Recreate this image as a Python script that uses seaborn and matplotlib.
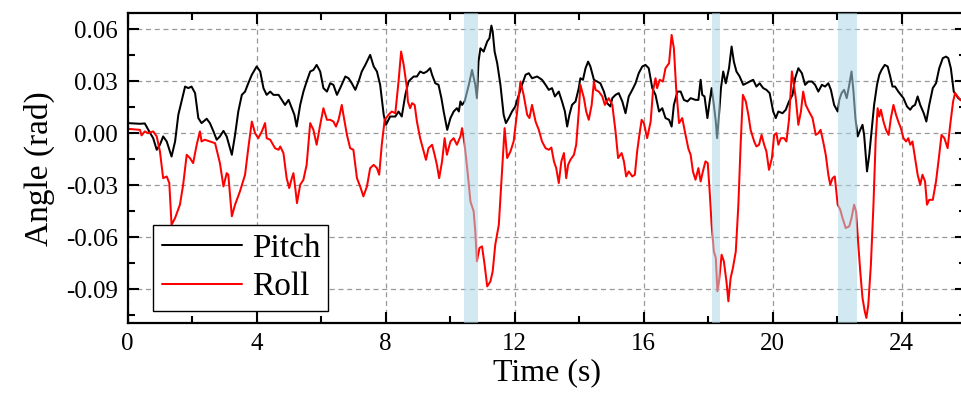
import numpy as np
import pandas as pd
import matplotlib
matplotlib.use("Agg")
import matplotlib.pyplot as plt
import seaborn as sns
from matplotlib.ticker import MultipleLocator, FormatStrFormatter
from matplotlib.lines import Line2D

# ---------------- data ----------------
pitch_t = [0.00, 0.38, 0.53, 0.64, 0.79, 0.90, 1.00, 1.10, 1.21, 1.36, 1.47, 1.57, 1.67, 1.78, 1.88, 1.98,
           2.09, 2.19, 2.29, 2.45, 2.55, 2.66, 2.76, 2.86, 2.97, 3.07, 3.23, 3.33, 3.43, 3.54, 3.64, 3.74,
           3.85, 4.00, 4.11, 4.21, 4.31, 4.42, 4.52, 4.68, 4.78, 4.88, 4.99, 5.09, 5.17, 5.24, 5.35, 5.45,
           5.55, 5.66, 5.76, 5.86, 5.97, 6.07, 6.18, 6.28, 6.38, 6.49, 6.59, 6.75, 6.85, 6.95, 7.06, 7.16,
           7.26, 7.37, 7.52, 7.63, 7.73, 7.83, 7.94, 8.01, 8.14, 8.30, 8.40, 8.50, 8.61, 8.71, 8.76, 8.87,
           8.97, 9.07, 9.18, 9.28, 9.38, 9.44, 9.54, 9.64, 9.73, 9.80, 9.87, 9.91, 10.01, 10.11, 10.21, 10.27,
           10.32, 10.37, 10.45, 10.58, 10.68, 10.78, 10.83, 10.88, 10.94, 11.04, 11.15, 11.22, 11.28, 11.32,
           11.38, 11.46, 11.56, 11.66, 11.73, 11.82, 11.92, 12.02, 12.13, 12.23, 12.34, 12.44, 12.54, 12.70,
           12.85, 12.96, 13.06, 13.16, 13.25, 13.37, 13.47, 13.56, 13.63, 13.70, 13.78, 13.89, 13.99, 14.04,
           14.12, 14.20, 14.28, 14.35, 14.46, 14.56, 14.66, 14.77, 14.87, 14.97, 15.03, 15.13, 15.23, 15.34,
           15.44, 15.54, 15.65, 15.75, 15.85, 15.96, 16.06, 16.16, 16.27, 16.37, 16.48, 16.58, 16.68, 16.79,
           16.87, 16.94, 17.05, 17.15, 17.25, 17.36, 17.46, 17.61, 17.70, 17.77, 17.82, 17.89, 17.98, 18.05,
           18.11, 18.18, 18.24, 18.28, 18.34, 18.40, 18.47, 18.55, 18.65, 18.73, 18.80, 18.88, 18.98, 19.09,
           19.19, 19.29, 19.40, 19.50, 19.60, 19.71, 19.81, 19.91, 20.02, 20.10, 20.18, 20.31, 20.41, 20.51,
           20.62, 20.70, 20.80, 20.91, 21.01, 21.11, 21.22, 21.32, 21.42, 21.53, 21.63, 21.73, 21.81, 21.91,
           22.02, 22.07, 22.14, 22.22, 22.30, 22.38, 22.45, 22.51, 22.57, 22.64, 22.72, 22.79, 22.84, 22.93,
           23.00, 23.07, 23.15, 23.24, 23.31, 23.38, 23.48, 23.57, 23.65, 23.72, 23.80, 23.90, 23.98, 24.06,
           24.17, 24.27, 24.34, 24.42, 24.50, 24.58, 24.69, 24.77, 24.86, 24.97, 25.07, 25.17, 25.28, 25.38,
           25.45, 25.53, 25.62, 25.69, 25.76, 25.84, 25.91, 26.00]
pitch_v = [0.0058, 0.0054, 0.0056, 0.0019, -0.0029, -0.0096, -0.0067, -0.0019, -0.0048, -0.0135, -0.0048,
           0.0106, 0.0183, 0.0269, 0.0260, 0.0269, 0.0231, 0.0087, 0.0058, 0.0083, 0.0058, 0.0010, -0.0038,
           -0.0019, 0.0013, -0.0019, -0.0125, -0.0010, 0.0125, 0.0221, 0.0240, 0.0288, 0.0337, 0.0385,
           0.0356, 0.0260, 0.0221, 0.0240, 0.0221, 0.0221, 0.0192, 0.0163, 0.0192, 0.0144, 0.0106, 0.0038,
           0.0163, 0.0240, 0.0298, 0.0356, 0.0365, 0.0394, 0.0356, 0.0260, 0.0240, 0.0288, 0.0279, 0.0221,
           0.0260, 0.0327, 0.0317, 0.0288, 0.0250, 0.0298, 0.0356, 0.0394, 0.0452, 0.0385, 0.0356, 0.0279,
           0.0106, 0.0048, 0.0096, 0.0096, 0.0125, 0.0096, 0.0221, 0.0298, 0.0308, 0.0327, 0.0327, 0.0356,
           0.0346, 0.0356, 0.0375, 0.0337, 0.0288, 0.0279, 0.0202, 0.0125, 0.0058, 0.0019, 0.0087, 0.0125,
           0.0144, 0.0125, 0.0183, 0.0163, 0.0183, 0.0279, 0.0365, 0.0279, 0.0202, 0.0413, 0.0490, 0.0471,
           0.0529, 0.0548, 0.0621, 0.0587, 0.0471, 0.0404, 0.0279, 0.0106, 0.0058, 0.0087, 0.0125, 0.0154,
           0.0221, 0.0279, 0.0337, 0.0346, 0.0317, 0.0327, 0.0308, 0.0279, 0.0250, 0.0260, 0.0212, 0.0240,
           0.0183, 0.0125, 0.0038, 0.0106, 0.0163, 0.0183, 0.0260, 0.0317, 0.0308, 0.0375, 0.0413, 0.0385,
           0.0308, 0.0298, 0.0288, 0.0240, 0.0173, 0.0154, 0.0202, 0.0221, 0.0231, 0.0183, 0.0115, 0.0212,
           0.0250, 0.0288, 0.0346, 0.0385, 0.0394, 0.0375, 0.0260, 0.0221, 0.0125, 0.0144, 0.0087, 0.0077,
           0.0038, 0.0163, 0.0240, 0.0240, 0.0192, 0.0183, 0.0202, 0.0192, 0.0192, 0.0308, 0.0221, 0.0212,
           0.0087, 0.0183, 0.0260, 0.0163, 0.0067, -0.0029, 0.0106, 0.0260, 0.0356, 0.0288, 0.0375, 0.0500,
           0.0413, 0.0356, 0.0327, 0.0279, 0.0288, 0.0298, 0.0308, 0.0269, 0.0288, 0.0260, 0.0250, 0.0231,
           0.0125, 0.0087, 0.0125, 0.0115, 0.0135, 0.0183, 0.0221, 0.0317, 0.0375, 0.0346, 0.0279, 0.0298,
           0.0298, 0.0279, 0.0240, 0.0279, 0.0269, 0.0288, 0.0250, 0.0163, 0.0125, 0.0192, 0.0231, 0.0250,
           0.0202, 0.0279, 0.0356, 0.0240, 0.0087, -0.0019, 0.0019, 0.0048, -0.0010, -0.0221, -0.0125,
           0.0010, 0.0163, 0.0279, 0.0337, 0.0365, 0.0394, 0.0385, 0.0327, 0.0269, 0.0269, 0.0240, 0.0221,
           0.0202, 0.0154, 0.0135, 0.0154, 0.0163, 0.0212, 0.0163, 0.0115, 0.0067, 0.0163, 0.0260, 0.0288,
           0.0375, 0.0433, 0.0442, 0.0433, 0.0375, 0.0240, 0.0221, 0.0202, 0.0192, 0.0183, 0.0185]

roll_t = [0.00, 0.38, 0.43, 0.53, 0.64, 0.79, 0.90, 1.00, 1.10, 1.21, 1.29, 1.36, 1.47, 1.62, 1.72, 1.83,
          1.93, 2.03, 2.14, 2.24, 2.29, 2.39, 2.55, 2.71, 2.76, 2.86, 2.97, 3.07, 3.12, 3.23, 3.33, 3.48,
          3.64, 3.74, 3.85, 3.95, 4.05, 4.16, 4.26, 4.31, 4.42, 4.57, 4.68, 4.73, 4.83, 4.93, 5.01, 5.09,
          5.14, 5.21, 5.25, 5.35, 5.45, 5.55, 5.66, 5.76, 5.86, 5.97, 6.07, 6.18, 6.28, 6.38, 6.46, 6.54,
          6.64, 6.69, 6.80, 6.90, 7.00, 7.11, 7.21, 7.31, 7.42, 7.52, 7.63, 7.73, 7.80, 7.88, 7.97, 8.09,
          8.19, 8.30, 8.40, 8.48, 8.56, 8.66, 8.69, 8.76, 8.82, 8.90, 8.97, 9.07, 9.18, 9.25, 9.33, 9.44,
          9.52, 9.59, 9.66, 9.75, 9.83, 9.90, 10.01, 10.11, 10.21, 10.32, 10.37, 10.45, 10.55, 10.63, 10.73,
          10.78, 10.83, 10.91, 10.99, 11.07, 11.15, 11.25, 11.32, 11.40, 11.51, 11.61, 11.69, 11.77, 11.87,
          11.97, 12.08, 12.18, 12.28, 12.39, 12.46, 12.54, 12.65, 12.75, 12.85, 12.96, 13.06, 13.14, 13.22,
          13.29, 13.37, 13.45, 13.53, 13.60, 13.66, 13.73, 13.84, 13.91, 13.99, 14.04, 14.15, 14.22, 14.30,
          14.39, 14.46, 14.51, 14.61, 14.72, 14.80, 14.92, 15.03, 15.13, 15.21, 15.32, 15.39, 15.46, 15.54,
          15.65, 15.73, 15.80, 15.87, 15.94, 16.01, 16.11, 16.22, 16.29, 16.37, 16.42, 16.50, 16.60, 16.68,
          16.79, 16.87, 16.94, 17.01, 17.10, 17.20, 17.28, 17.39, 17.46, 17.53, 17.61, 17.70, 17.77, 17.84,
          17.92, 17.99, 18.05, 18.11, 18.18, 18.24, 18.29, 18.34, 18.42, 18.49, 18.57, 18.63, 18.70, 18.77,
          18.86, 18.94, 19.01, 19.08, 19.17, 19.25, 19.32, 19.43, 19.50, 19.58, 19.66, 19.74, 19.81, 19.89,
          19.98, 20.05, 20.12, 20.18, 20.26, 20.36, 20.43, 20.51, 20.60, 20.67, 20.72, 20.80, 20.88, 20.95,
          21.03, 21.13, 21.24, 21.34, 21.42, 21.49, 21.57, 21.65, 21.73, 21.79, 21.86, 21.93, 22.02, 22.10,
          22.17, 22.27, 22.38, 22.45, 22.53, 22.59, 22.66, 22.72, 22.79, 22.86, 22.91, 22.97, 23.05, 23.13,
          23.20, 23.26, 23.31, 23.36, 23.44, 23.52, 23.60, 23.67, 23.75, 23.83, 23.90, 23.98, 24.06, 24.14,
          24.21, 24.27, 24.34, 24.42, 24.50, 24.58, 24.65, 24.73, 24.79, 24.86, 24.97, 25.07, 25.17, 25.24,
          25.33, 25.43, 25.51, 25.60, 25.66, 25.74, 25.82, 25.91, 26.00]
roll_v = [0.0025, 0.0019, -0.0013, 0.0010, 0.0000, 0.0010, -0.0019, -0.0106, -0.0260, -0.0250, -0.0288,
          -0.0529, -0.0490, -0.0413, -0.0298, -0.0125, -0.0144, -0.0173, -0.0067, 0.0010, -0.0048, -0.0038,
          -0.0048, -0.0058, -0.0096, -0.0173, -0.0308, -0.0231, -0.0240, -0.0480, -0.0413, -0.0337, -0.0240,
          -0.0087, 0.0067, 0.0000, -0.0029, 0.0010, 0.0058, -0.0029, -0.0038, -0.0087, -0.0096, -0.0077,
          -0.0115, -0.0260, -0.0317, -0.0260, -0.0231, -0.0337, -0.0404, -0.0298, -0.0269, -0.0183, 0.0058,
          0.0019, -0.0067, 0.0048, 0.0144, 0.0077, 0.0077, 0.0067, 0.0038, 0.0077, 0.0163, 0.0106, -0.0010,
          -0.0087, -0.0096, -0.0260, -0.0308, -0.0365, -0.0308, -0.0202, -0.0183, -0.0202, -0.0240, -0.0067,
          0.0077, 0.0106, 0.0125, 0.0115, 0.0298, 0.0471, 0.0394, 0.0260, 0.0183, 0.0144, 0.0173, 0.0163,
          0.0067, -0.0029, -0.0106, -0.0154, -0.0087, -0.0067, -0.0125, -0.0183, -0.0260, -0.0163, -0.0029,
          -0.0125, -0.0048, -0.0029, -0.0067, -0.0019, 0.0029, -0.0067, -0.0240, -0.0394, -0.0452, -0.0567,
          -0.0740, -0.0663, -0.0654, -0.0760, -0.0885, -0.0856, -0.0798, -0.0644, -0.0529, -0.0221, 0.0029,
          -0.0144, -0.0106, -0.0048, 0.0125, 0.0298, 0.0221, 0.0106, 0.0087, 0.0163, 0.0067, 0.0019, -0.0048,
          -0.0087, -0.0096, -0.0083, -0.0163, -0.0202, -0.0288, -0.0163, -0.0115, -0.0260, -0.0183, -0.0154,
          -0.0125, -0.0067, 0.0125, 0.0279, 0.0202, 0.0125, 0.0077, 0.0163, 0.0298, 0.0250, 0.0240, 0.0212,
          0.0163, 0.0202, 0.0163, 0.0010, -0.0144, -0.0115, -0.0163, -0.0250, -0.0221, -0.0250, -0.0240,
          -0.0106, -0.0010, 0.0077, 0.0058, -0.0029, 0.0067, 0.0240, 0.0317, 0.0260, 0.0308, 0.0298, 0.0375,
          0.0404, 0.0567, 0.0490, 0.0260, 0.0058, 0.0087, 0.0010, -0.0090, -0.0125, -0.0221, -0.0269, -0.0202,
          -0.0279, -0.0221, -0.0163, -0.0173, -0.0337, -0.0529, -0.0683, -0.0721, -0.0913, -0.0856, -0.0702,
          -0.0740, -0.0856, -0.0971, -0.0837, -0.0779, -0.0683, -0.0413, -0.0067, 0.0221, 0.0183, 0.0106,
          0.0019, -0.0048, -0.0077, -0.0067, -0.0010, -0.0067, -0.0106, -0.0212, -0.0144, -0.0010, 0.0000,
          -0.0067, -0.0029, -0.0029, -0.0048, 0.0077, 0.0356, 0.0269, 0.0202, 0.0048, 0.0125, 0.0240, 0.0163,
          0.0125, 0.0087, -0.0010, 0.0000, 0.0019, -0.0048, -0.0125, -0.0240, -0.0298, -0.0260, -0.0250,
          -0.0413, -0.0442, -0.0490, -0.0548, -0.0538, -0.0490, -0.0413, -0.0452, -0.0644, -0.0798, -0.0952,
          -0.1029, -0.1067, -0.0990, -0.0760, -0.0413, -0.0029, 0.0144, 0.0096, 0.0135, 0.0067, 0.0019,
          -0.0010, 0.0087, 0.0163, 0.0106, 0.0067, 0.0029, -0.0029, -0.0048, -0.0029, -0.0067, -0.0048,
          -0.0144, -0.0240, -0.0298, -0.0240, -0.0279, -0.0413, -0.0385, -0.0385, -0.0279, -0.0125, -0.0010,
          -0.0029, -0.0087, 0.0048, 0.0183, 0.0231, 0.0212, 0.0192, 0.0183, 0.0185]

span_start = [10.42, 18.11, 22.02]
span_end = [10.87, 18.38, 22.62]

series_names = ["Pitch", "Roll"]
series_colors = ["black", "red"]
x_ticks = [0, 4, 8, 12, 16, 20, 24]
y_ticks = [-0.09, -0.06, -0.03, 0.00, 0.03, 0.06]

# ---------------- styling ----------------
sns.set_style("ticks")
plt.rcParams["font.family"] = ["Liberation Serif", "DejaVu Serif"]
plt.rcParams["axes.unicode_minus"] = False
for k in ["text.color", "axes.labelcolor", "xtick.color", "ytick.color", "axes.edgecolor"]:
    plt.rcParams[k] = "black"

df = pd.concat([
    pd.DataFrame({"Time": pitch_t, "Angle": pitch_v, "Series": series_names[0]}),
    pd.DataFrame({"Time": roll_t, "Angle": roll_v, "Series": series_names[1]}),
], ignore_index=True)

fig = plt.figure(figsize=(9.62, 4.0), dpi=100)
ax = fig.add_axes([127.7 / 962, (400 - 323.3) / 400, (966 - 127.7) / 962, (323.3 - 13.3) / 400])

sns.lineplot(data=df, x="Time", y="Angle", hue="Series", hue_order=series_names,
             palette=dict(zip(series_names, series_colors)), estimator=None, sort=False,
             linewidth=1.45, ax=ax, legend=False, zorder=2)

for a, b in zip(span_start, span_end):
    ax.axvspan(a, b, color="lightblue", alpha=0.55, lw=0, zorder=3)

ax.set_xlim(0, 26)
ax.set_ylim(-0.1098, 0.0692)
ax.set_xticks(x_ticks)
ax.xaxis.set_minor_locator(MultipleLocator(2))
ax.set_yticks(y_ticks)
ax.yaxis.set_minor_locator(MultipleLocator(0.015))
ax.yaxis.set_major_formatter(FormatStrFormatter("%.2f"))

ax.grid(True, which="major", color="#999999", linestyle=(0, (4, 3)), linewidth=0.9, zorder=0)
ax.set_axisbelow(True)

for s in ax.spines.values():
    s.set_linewidth(1.6)
    s.set_color("black")
ax.tick_params(which="both", direction="in", top=True, right=True, width=1.5, colors="black")
ax.tick_params(which="major", length=8, labelsize=18, pad=7, labelcolor="black")
ax.tick_params(which="minor", length=5)

ax.set_xlabel("Time (s)", fontsize=23, labelpad=2, color="black")
ax.set_ylabel("Angle (rad)", fontsize=24, labelpad=8, color="black")

handles = [Line2D([], [], color=c, lw=1.45) for c in series_colors]
leg = ax.legend(handles, series_names, loc="lower left", bbox_to_anchor=(0.0305, 0.0406),
                borderaxespad=0, fontsize=24, frameon=True, fancybox=False, framealpha=1,
                edgecolor="black", handlelength=2.4, handletextpad=0.3, labelspacing=0.25,
                borderpad=0.25)
leg.get_frame().set_linewidth(1.0)
for txt in leg.get_texts():
    txt.set_color("black")
leg.set_zorder(5)

fig.savefig("out.png", dpi=100)
